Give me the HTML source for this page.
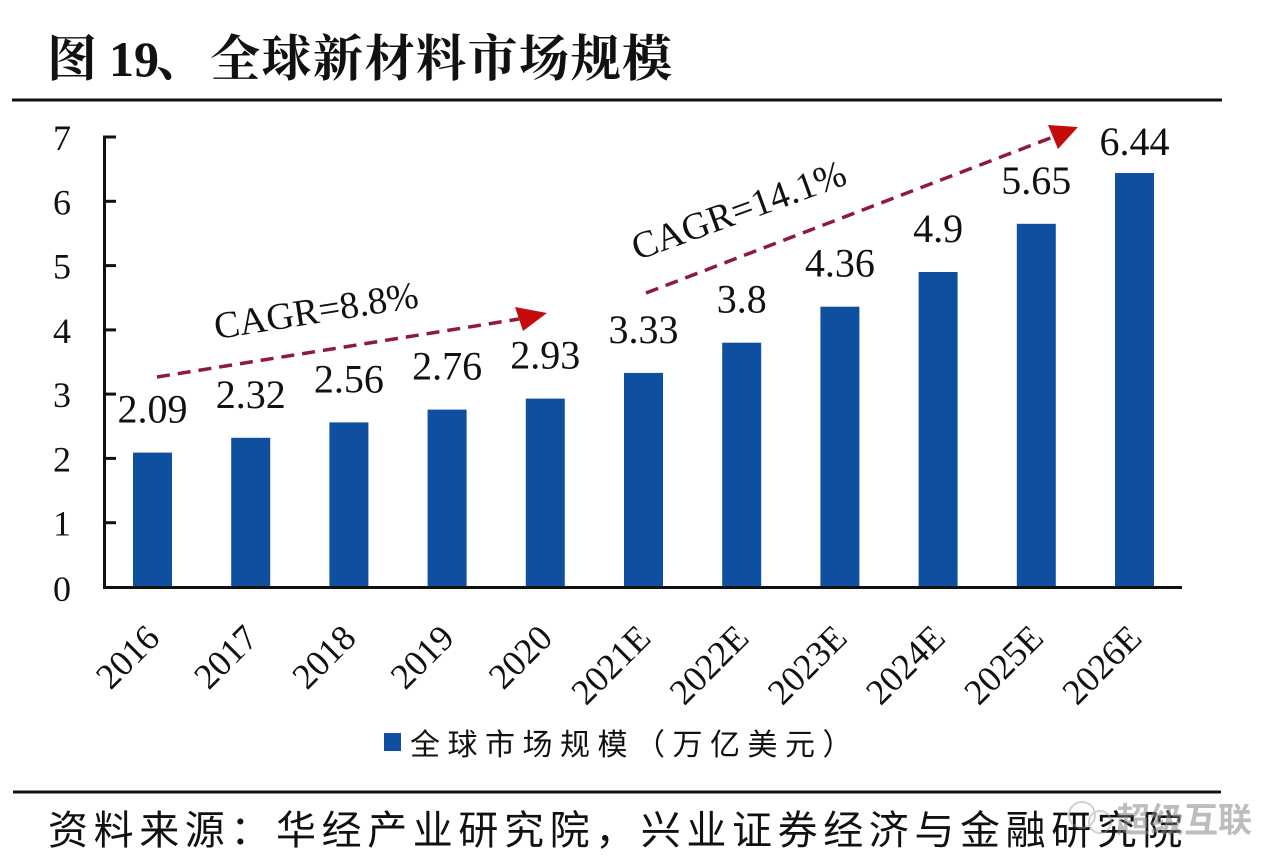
<!DOCTYPE html>
<html>
<head>
<meta charset="utf-8">
<style>
  html,body{margin:0;padding:0;background:#fff;}
  body{width:1280px;height:866px;overflow:hidden;}
  svg{display:block;}
  .serif{font-family:"Liberation Serif","Noto Serif CJK SC",serif;}
  .cjk{font-family:"Liberation Sans","Noto Sans CJK SC",sans-serif;}
</style>
</head>
<body>
<svg width="1280" height="866" viewBox="0 0 1280 866" xmlns="http://www.w3.org/2000/svg">
  <rect x="0" y="0" width="1280" height="866" fill="#ffffff"/>

  <!-- Title -->
  <text x="47" y="76" font-size="50" font-weight="bold" fill="#111" font-family="'Liberation Serif','Noto Serif CJK SC',serif">图</text>
  <text x="109" y="76" font-size="50" font-weight="bold" fill="#111" font-family="'Liberation Serif',serif">19</text>
  <text x="156" y="76" font-size="50" font-weight="bold" fill="#111" font-family="'Liberation Serif','Noto Serif CJK SC',serif">、</text>
  <text x="210 261.5 313 364.5 416 467.5 519 570.5 622" y="76" font-size="50" font-weight="bold" fill="#111" font-family="'Liberation Serif','Noto Serif CJK SC',serif">全球新材料市场规模</text>

  <!-- Title rule -->
  <rect x="12" y="98.5" width="1210" height="3" fill="#111"/>

  <!-- Bars -->
  <g fill="#0e4fa0">
    <rect x="133" y="452.6" width="39" height="134.4"/>
    <rect x="231.2" y="437.8" width="39" height="149.2"/>
    <rect x="329.4" y="422.4" width="39" height="164.6"/>
    <rect x="427.6" y="409.6" width="39" height="177.4"/>
    <rect x="525.8" y="398.6" width="39" height="188.4"/>
    <rect x="624.0" y="372.9" width="39" height="214.1"/>
    <rect x="722.2" y="342.7" width="39" height="244.3"/>
    <rect x="820.4" y="306.7" width="39" height="280.3"/>
    <rect x="918.6" y="272.0" width="39" height="315.0"/>
    <rect x="1016.8" y="223.8" width="39" height="363.2"/>
    <rect x="1115.0" y="173.0" width="39" height="414.0"/>
  </g>

  <!-- Axes -->
  <g fill="#111">
    <rect x="103" y="136" width="3" height="453"/>
    <rect x="103" y="586" width="1079" height="3"/>
    <!-- y ticks (inward) -->
    <rect x="103" y="135.5" width="13" height="3"/>
    <rect x="103" y="199.8" width="13" height="3"/>
    <rect x="103" y="264.1" width="13" height="3"/>
    <rect x="103" y="328.4" width="13" height="3"/>
    <rect x="103" y="392.6" width="13" height="3"/>
    <rect x="103" y="456.9" width="13" height="3"/>
    <rect x="103" y="521.2" width="13" height="3"/>
  </g>

  <!-- Y tick labels -->
  <g class="serif" font-size="36" fill="#111" text-anchor="end" font-family="'Liberation Serif',serif">
    <text x="71" y="150">7</text>
    <text x="71" y="214.3">6</text>
    <text x="71" y="278.6">5</text>
    <text x="71" y="342.9">4</text>
    <text x="71" y="407.1">3</text>
    <text x="71" y="471.4">2</text>
    <text x="71" y="535.7">1</text>
    <text x="71" y="601">0</text>
  </g>

  <!-- Value labels -->
  <g font-size="40" fill="#111" text-anchor="middle" font-family="'Liberation Serif',serif">
    <text x="152.5" y="422.6">2.09</text>
    <text x="250.7" y="407.8">2.32</text>
    <text x="348.9" y="392.4">2.56</text>
    <text x="447.1" y="379.6">2.76</text>
    <text x="545.3" y="368.6">2.93</text>
    <text x="643.5" y="342.9">3.33</text>
    <text x="741.7" y="312.7">3.8</text>
    <text x="839.9" y="276.7">4.36</text>
    <text x="938.1" y="242.0">4.9</text>
    <text x="1036.3" y="193.8">5.65</text>
    <text x="1134.5" y="155">6.44</text>
  </g>

  <!-- X labels -->
  <g font-size="36" fill="#111" text-anchor="end" font-family="'Liberation Serif',serif">
    <text transform="translate(161.5,640) rotate(-45)">2016</text>
    <text transform="translate(259.7,640) rotate(-45)">2017</text>
    <text transform="translate(357.9,640) rotate(-45)">2018</text>
    <text transform="translate(456.1,640) rotate(-45)">2019</text>
    <text transform="translate(554.3,640) rotate(-45)">2020</text>
    <text transform="translate(652.5,640) rotate(-45)">2021E</text>
    <text transform="translate(750.7,640) rotate(-45)">2022E</text>
    <text transform="translate(848.9,640) rotate(-45)">2023E</text>
    <text transform="translate(947.1,640) rotate(-45)">2024E</text>
    <text transform="translate(1045.3,640) rotate(-45)">2025E</text>
    <text transform="translate(1143.5,640) rotate(-45)">2026E</text>
  </g>

  <!-- CAGR arrows -->
  <line x1="157" y1="377" x2="519" y2="319" stroke="#8e1b3c" stroke-width="3.5" stroke-dasharray="13 8"/>
  <polygon points="515,307 547,313 523,331" fill="#c40c0c"/>
  <line x1="646" y1="293" x2="1053" y2="137" stroke="#8e1b3c" stroke-width="3.5" stroke-dasharray="13 8"/>
  <polygon points="1048,125 1078,127 1058,149" fill="#c40c0c"/>

  <g font-size="38" fill="#111" text-anchor="middle" font-family="'Liberation Serif',serif">
    <text transform="translate(318,323) rotate(-9)">CAGR=8.8%</text>
    <text transform="translate(743,222) rotate(-20)">CAGR=14.1%</text>
  </g>

  <!-- Legend -->
  <rect x="384" y="733" width="17" height="18" fill="#0e4fa0"/>
  <text x="410" y="755" font-size="30" letter-spacing="7.5" fill="#111" font-family="'Liberation Sans','Noto Sans CJK SC',sans-serif">全球市场规模（万亿美元）</text>

  <!-- Bottom rule -->
  <rect x="13" y="790.5" width="1208" height="3" fill="#111"/>

  <!-- Source -->
  <text x="48" y="844" font-size="40" letter-spacing="5.6" fill="#111" font-family="'Liberation Sans','Noto Sans CJK SC',sans-serif">资料来源：华经产业研究院，兴业证券经济与金融研究院</text>

  <!-- Watermark -->
  <g opacity="0.45">
    <circle cx="1082" cy="815" r="13" fill="none" stroke="#999" stroke-width="2"/>
    <circle cx="1100" cy="822" r="11" fill="none" stroke="#999" stroke-width="2"/>
  </g>
  <text x="1116" y="832" font-size="34" font-weight="bold" fill="#888" opacity="0.55" font-family="'Liberation Sans','Noto Sans CJK SC',sans-serif">超级互联</text>
</svg>
</body>
</html>
